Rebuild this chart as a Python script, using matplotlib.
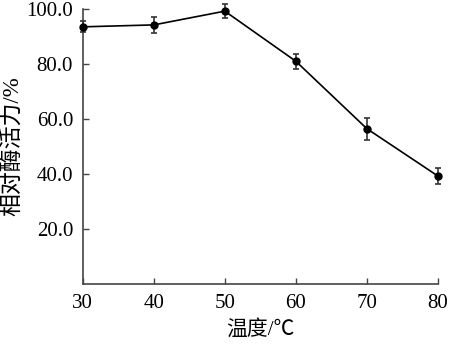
import matplotlib
matplotlib.use("Agg")
import matplotlib.pyplot as plt

# 温度与相对酶活力
temps = [30, 40, 50, 60, 70, 80]
activity = [93.5, 94.2, 99.2, 81.0, 56.5, 39.3]
errors = [2.0, 2.9, 2.6, 2.8, 4.0, 2.9]
y_ticks = [20, 40, 60, 80, 100]

plt.rcParams['font.family'] = ['Liberation Serif', 'Noto Sans CJK SC']

fig = plt.figure(figsize=(4.5, 3.44), dpi=100)
ax = fig.add_axes([0.184, 0.174, 0.789, 0.80])

ax.errorbar(temps, activity, yerr=errors, color='black', lw=1.2,
            marker='o', ms=5, ecolor='#333333', elinewidth=1.2,
            capsize=2.5, capthick=1.2, clip_on=False, zorder=3)

ax.set_xlim(30, 80)
ax.set_ylim(0, 100)
ax.set_xticks(temps)
ax.set_yticks(y_ticks)
ax.set_yticklabels([f"{v:.1f}" for v in y_ticks])
ax.tick_params(direction='in', length=4, width=1, color='#444444',
               labelsize=15, pad=7)

for side in ['top', 'right']:
    ax.spines[side].set_visible(False)
for side in ['left', 'bottom']:
    ax.spines[side].set_color('#444444')
    ax.spines[side].set_linewidth(1.2)

ax.set_xlabel('温度/℃', fontsize=15, labelpad=5)
ax.set_ylabel('相对酶活力/%', fontsize=16.5, labelpad=2)

fig.savefig('out.png', dpi=100)
